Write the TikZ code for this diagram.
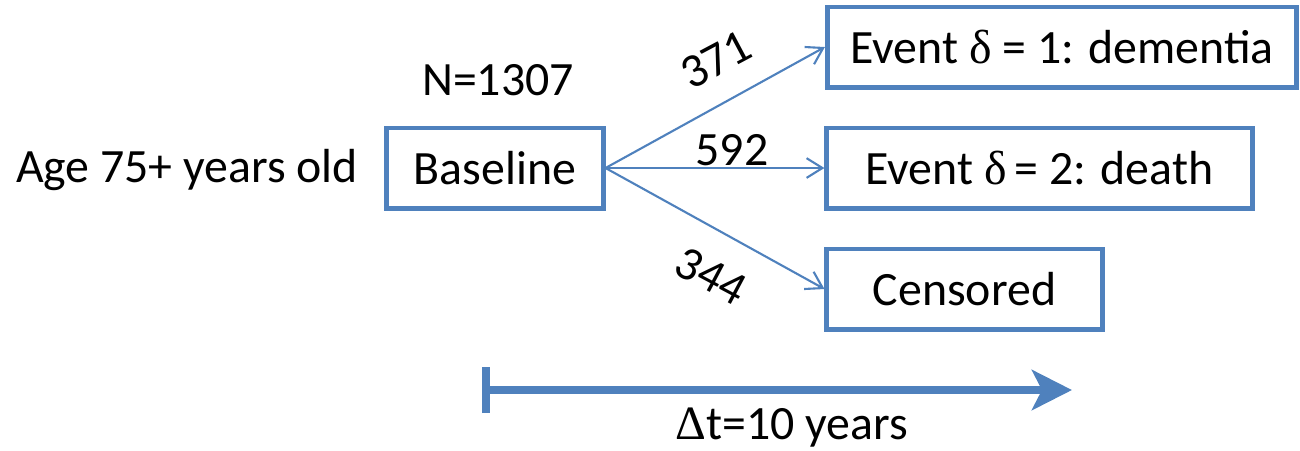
\documentclass[tikz,border=0pt]{standalone}
\usepackage{fontspec}
\setmainfont{Carlito}
\newfontfamily\greekfont{Liberation Serif}
\usetikzlibrary{arrows.meta}
\definecolor{boxblue}{RGB}{79,129,189}
\tikzset{
  statebox/.style={draw=boxblue, line width=1.4pt, minimum height=0.8cm, inner sep=0pt},
  flow/.style={draw=boxblue, line width=0.6pt, -{Straight Barb[length=4.5pt,width=5.6pt]}},
  count/.style={inner sep=0pt}
}
\begin{document}
\begin{tikzpicture}[x=0.01cm, y=-0.01cm, font=\fontsize{13.6}{16}\selectfont]
  \useasboundingbox (0,0) rectangle (1300,450);
  \node[statebox, minimum width=2.16cm] (base) at (495,168) {Baseline};
  \node[statebox, minimum width=4.69cm] (dem) at (1062,47) {Event {\greekfont δ} = 1: dementia};
  \node[statebox, minimum width=4.25cm] (death) at (1039.5,168) {Event {\greekfont δ}\,= 2: death};
  \node[statebox, minimum width=2.75cm] (cens) at (964.5,289) {Censored};
  \node (age) at (187,170) {Age 75+ years old};
  \node (n) at (498,80) {N=1307};
  \draw[flow] (base.east) -- (dem.west);
  \draw[flow] (base.east) -- (death.west);
  \draw[flow] (base.east) -- (cens.west);
  \node[count, rotate=28] (c1) at (716,60) {371};
  \node[count] (c2) at (732,150) {592};
  \node[count, rotate=-28] (c3) at (711,276) {344};
  \coordinate (t0) at (482,390);
  \coordinate (t1) at (1072,390);
  \draw[boxblue, line width=2.3pt, {Bar[width=0.46cm]}-{Stealth[length=0.4cm,width=0.4cm,inset=0.1cm]}] (t0) -- (t1);
  \node (dt) at (792,428) {{\greekfont Δ}t=10 years};
\end{tikzpicture}
\end{document}
